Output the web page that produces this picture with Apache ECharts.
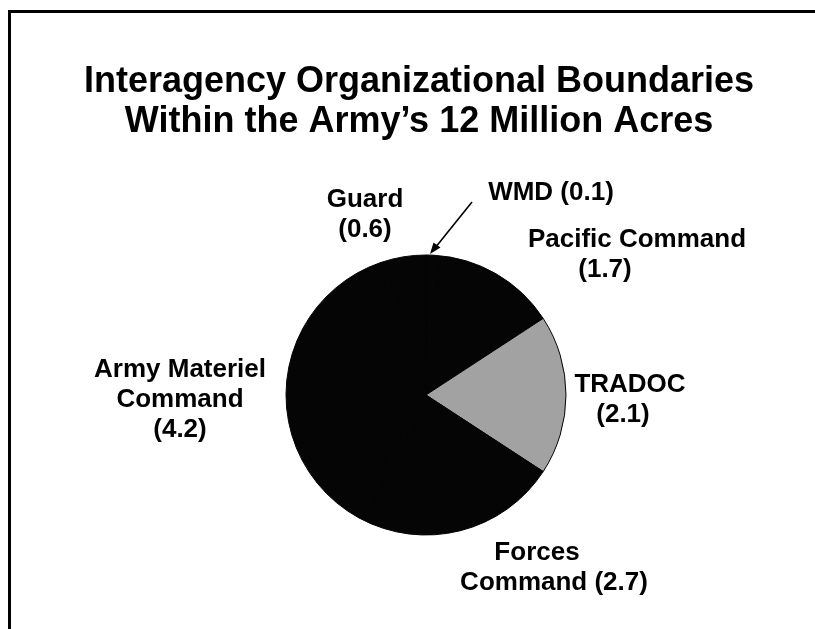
<!DOCTYPE html>
<html>
<head>
<meta charset="utf-8">
<script src="https://cdn.jsdelivr.net/npm/echarts@6/dist/echarts.min.js"></script>
<style>
html,body{margin:0;padding:0;background:#fff;}
#chart{width:815px;height:629px;}
</style>
</head>
<body>
<div id="chart"></div>
<script>
// ---- data ----
var titleLines = ['Interagency Organizational Boundaries', 'Within the Army\u2019s 12 Million Acres'];
var categories = ['WMD', 'Pacific Command', 'TRADOC', 'Forces Command', 'Army Materiel Command', 'Guard'];
var values = [0.1, 1.7, 2.1, 2.7, 4.2, 0.6];
var labelText = [
  ['WMD (0.1)'],
  ['Pacific Command', '(1.7)'],
  ['TRADOC', '(2.1)'],
  ['Forces', 'Command (2.7)'],
  ['Army Materiel', 'Command', '(4.2)'],
  ['Guard', '(0.6)']
];

// ---- layout / style (not data) ----
var sliceColors = ['#050505', '#050505', '#a2a2a2', '#050505', '#050505', '#050505'];
var labelPos = [
  {x: 551, y: 193},
  {x: 637, y: 255},
  {x: 630, y: 400},
  {x: 554, y: 568},
  {x: 180, y: 400},
  {x: 365, y: 215}
];
var lineShift = [
  [0],
  [0, -32],
  [0, -7],
  [-17, 0],
  [0, 0, 0],
  [0, 0]
];

var chart = echarts.init(document.getElementById('chart'), null, {renderer: 'canvas'});
var FONT = '"Liberation Sans", Arial, Helvetica, sans-serif';

var rich = {};
var maxShift = 40;
for (var s = -maxShift; s <= maxShift; s++) {
  var pad = s < 0 ? [0, -2 * s, 0, 0] : [0, 0, 0, 2 * s];
  rich['s' + (s < 0 ? 'm' + (-s) : s)] = {
    fontSize: 26, fontWeight: 'bold', fontFamily: FONT, color: '#000',
    lineHeight: 30, padding: pad
  };
}
function key(s) { return 's' + (s < 0 ? 'm' + (-s) : s); }

var option = {
  backgroundColor: '#ffffff',
  animation: false,
  title: {
    text: titleLines.join('\n'),
    left: 414,
    top: 57,
    textAlign: 'center',
    textStyle: {
      fontFamily: FONT, fontSize: 36, fontWeight: 'bold', color: '#000', lineHeight: 40
    }
  },
  color: sliceColors,
  series: [{
    type: 'pie',
    silent: true,
    center: [426, 395],
    radius: 140,
    startAngle: 90,
    clockwise: true,
    avoidLabelOverlap: false,
    itemStyle: {borderWidth: 1, borderColor: '#050505'},
    data: categories.map(function (c, i) { return {name: c, value: values[i]}; }),
    label: {
      show: true,
      position: 'outside',
      fontFamily: FONT, fontSize: 26, fontWeight: 'bold', color: '#000', lineHeight: 30,
      formatter: function (p) {
        var lines = labelText[p.dataIndex];
        var sh = lineShift[p.dataIndex];
        return lines.map(function (t, j) { return '{' + key(sh[j]) + '|' + t + '}'; }).join('\n');
      },
      rich: rich
    },
    labelLine: {show: false},
    labelLayout: function (params) {
      var pos = labelPos[params.dataIndex];
      return {x: pos.x, y: pos.y, align: 'center', verticalAlign: 'middle', hideOverlap: false};
    }
  }],
  graphic: [
    {type: 'rect', shape: {x: 8, y: 10, width: 807, height: 3}, style: {fill: '#000'}, silent: true},
    {type: 'rect', shape: {x: 8, y: 10, width: 3, height: 619}, style: {fill: '#000'}, silent: true},
    {type: 'line', shape: {x1: 472, y1: 202, x2: 435, y2: 248}, style: {stroke: '#000', lineWidth: 1.6}, silent: true},
    {type: 'polygon', shape: {points: [[430, 254], [440.5, 247.5], [433.5, 242.5]]}, style: {fill: '#000'}, silent: true}
  ]
};
chart.setOption(option);
</script>
</body>
</html>
